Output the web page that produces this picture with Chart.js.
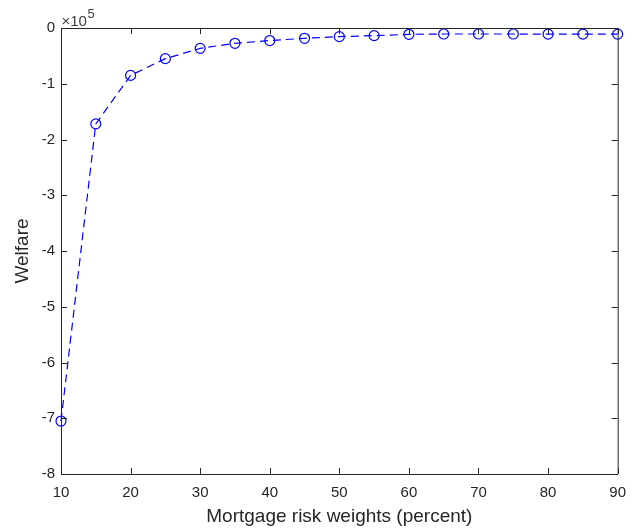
<!DOCTYPE html>
<html>
<head>
<meta charset="utf-8">
<script src="https://cdn.jsdelivr.net/npm/chart.js@4/dist/chart.umd.min.js"></script>
<style>
  html, body { margin: 0; padding: 0; background: #ffffff; }
  #wrap { width: 636px; height: 531px; position: relative; }
</style>
</head>
<body>
<div id="wrap"><canvas id="c" width="636" height="531"></canvas></div>
<script>
// Mortgage risk weights (percent)
const riskWeights = [10, 15, 20, 25, 30, 35, 40, 45, 50, 55, 60, 65, 70, 75, 80, 85, 90];
// Welfare (in absolute units; axis shows x10^5)
const welfare = [-705000, -172000, -85000, -55000, -36500, -27500, -22500, -18500, -15500,
                 -13700, -11300, -10800, -10800, -10800, -11000, -11000, -11000];
const xTicks = [10, 20, 30, 40, 50, 60, 70, 80, 90];
const yTicks = [0, -1, -2, -3, -4, -5, -6, -7, -8];
const yExponent = 5;

const axisColor = '#262626';
const FONT = '"Liberation Sans", Arial, Helvetica, sans-serif';

const boxPlugin = {
  id: 'matlabBox',
  afterDraw(chart) {
    const ctx = chart.ctx;
    const a = chart.chartArea;
    const xs = chart.scales.x, ys = chart.scales.y;
    const tl = 6;
    ctx.save();
    ctx.strokeStyle = axisColor;
    ctx.lineWidth = 1;
    ctx.beginPath();
    ctx.moveTo(a.left, a.top + 0.5);
    ctx.lineTo(a.right + 0.5, a.top + 0.5);
    ctx.lineTo(a.right + 0.5, a.bottom);
    ctx.stroke();
    ctx.beginPath();
    xs.ticks.forEach(t => {
      const px = Math.round(xs.getPixelForValue(t.value)) + 0.5;
      ctx.moveTo(px, a.bottom); ctx.lineTo(px, a.bottom - tl);
      ctx.moveTo(px, a.top); ctx.lineTo(px, a.top + tl);
    });
    ys.ticks.forEach(t => {
      const py = Math.round(ys.getPixelForValue(t.value)) + 0.5;
      ctx.moveTo(a.left, py); ctx.lineTo(a.left + tl, py);
      ctx.moveTo(a.right, py); ctx.lineTo(a.right - tl, py);
    });
    ctx.stroke();
    // exponent label
    ctx.fillStyle = '#404040';
    ctx.textAlign = 'left';
    ctx.textBaseline = 'alphabetic';
    ctx.font = '15px ' + FONT;
    const base = '\u00D710';
    ctx.fillText(base, a.left + 0.5, a.top - 2);
    const w = ctx.measureText(base).width;
    ctx.font = '13px ' + FONT;
    ctx.fillText(String(yExponent), a.left + 0.5 + w + 0.5, a.top - 10);
    ctx.restore();
  }
};

new Chart(document.getElementById('c'), {
  type: 'line',
  data: {
    datasets: [{
      data: riskWeights.map((x, i) => ({ x: x, y: welfare[i] })),
      borderColor: '#0000ff',
      backgroundColor: 'rgba(0,0,0,0)',
      borderWidth: 1.2,
      borderDash: [8, 5],
      pointStyle: 'circle',
      pointRadius: 5,
      pointBorderWidth: 1.2,
      pointBorderColor: '#0000ff',
      pointBackgroundColor: 'rgba(0,0,0,0)',
      tension: 0,
      fill: false,
      clip: false
    }]
  },
  options: {
    responsive: false,
    animation: false,
    devicePixelRatio: 1,
    layout: { padding: { left: 0, right: 11, top: 28, bottom: 0 } },
    plugins: { legend: { display: false }, tooltip: { enabled: false } },
    scales: {
      x: {
        type: 'linear',
        min: 10, max: 90,
        afterFit: s => { s.height = 57; },
        afterBuildTicks: s => { s.ticks = xTicks.map(v => ({ value: v })); },
        grid: { display: false, drawTicks: false },
        border: { display: true, color: axisColor, width: 1 },
        ticks: {
          color: axisColor, padding: 10,
          font: { family: FONT, size: 15 },
          maxRotation: 0,
          callback: v => String(v)
        },
        title: {
          display: true, text: 'Mortgage risk weights (percent)', color: axisColor,
          font: { family: FONT, size: 19 },
          padding: { top: 0, bottom: 3 }
        }
      },
      y: {
        type: 'linear',
        min: -8 * Math.pow(10, yExponent), max: 0,
        afterFit: s => { s.width = 61; },
        afterBuildTicks: s => { s.ticks = yTicks.map(v => ({ value: v * Math.pow(10, yExponent) })); },
        grid: { display: false, drawTicks: false },
        border: { display: true, color: axisColor, width: 1 },
        ticks: {
          color: axisColor, padding: 6,
          font: { family: FONT, size: 15 },
          callback: v => String(Math.round(v / Math.pow(10, yExponent)))
        },
        title: {
          display: true, text: 'Welfare', color: axisColor,
          font: { family: FONT, size: 19 },
          padding: { top: 11, bottom: 0 }
        }
      }
    }
  },
  plugins: [boxPlugin]
});
</script>
</body>
</html>
